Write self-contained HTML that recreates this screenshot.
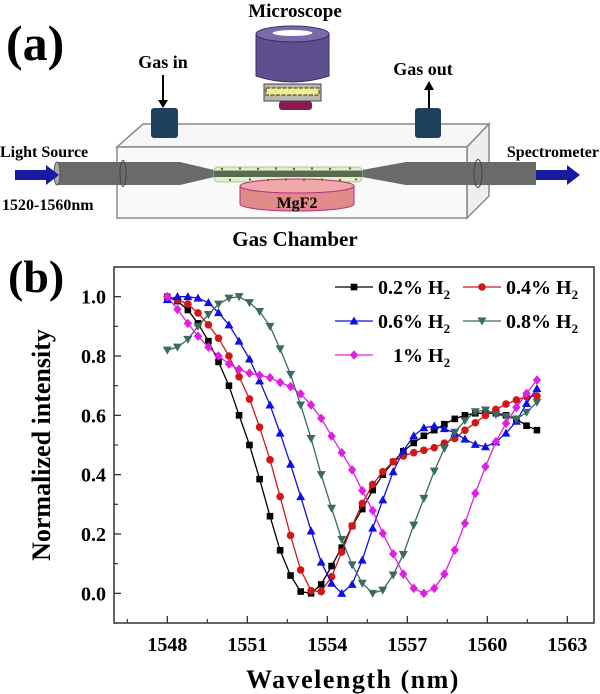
<!DOCTYPE html>
<html><head><meta charset="utf-8"><style>
html,body{margin:0;padding:0;background:#fff;}
svg{display:block;font-family:"Liberation Serif",serif;font-weight:bold;}
</style></head><body>
<svg width="600" height="694" viewBox="0 0 600 694">
<g>
  <text x="6" y="60" font-size="50">(a)</text>
  <text x="295" y="17" font-size="19" text-anchor="middle">Microscope</text>
  <g>
    <path d="M256,34 L256,76 Q292,88 329,76 L329,34 Z" fill="#5e4f8f" stroke="#3a3060"/>
    <ellipse cx="292.5" cy="34" rx="36.5" ry="8" fill="#7a6aaa" stroke="#3a3060"/>
    <ellipse cx="292.5" cy="33" rx="20" ry="3" fill="#fff"/>
    <rect x="264" y="84" width="57" height="17" fill="#b8b8b0" stroke="#444"/>
    <rect x="266" y="88" width="53" height="7" fill="#f0ee90" stroke="#333" stroke-dasharray="4 1.5"/>
    <rect x="279" y="101" width="33" height="9" rx="3" fill="#8a1a50"/>
  </g>
  <g>
    <polygon points="117,147 143,124 489,124 467,147" fill="#f6f6f6" stroke="#888" stroke-width="1.5"/>
    <polygon points="467,147 489,124 489,196 467,218" fill="#eeeeee" stroke="#888" stroke-width="1.5"/>
    <rect x="117" y="147" width="350" height="71" fill="#fafafa" stroke="#888" stroke-width="1.5"/>
  </g>
  <text x="163" y="68" font-size="18" text-anchor="middle">Gas in</text>
  <line x1="163" y1="75" x2="163" y2="104" stroke="#000" stroke-width="2"/>
  <polygon points="158,100 168,100 163,108" fill="#000"/>
  <rect x="151" y="108" width="27" height="30" rx="3" fill="#1f3f5f"/>
  <text x="423" y="75" font-size="18" text-anchor="middle">Gas out</text>
  <line x1="429" y1="88" x2="429" y2="108" stroke="#000" stroke-width="2"/>
  <polygon points="424,90 434,90 429,81" fill="#000"/>
  <rect x="415" y="108" width="26" height="30" rx="3" fill="#1f3f5f"/>
  <g>
    <polygon points="57,162 180,162 214,170 362,170 406,162 536,162 536,185 406,185 362,177 214,177 180,185 57,185" fill="#6a6a6a"/>
    <ellipse cx="57" cy="173.5" rx="3" ry="11.5" fill="#aaa" stroke="#555"/>
    <ellipse cx="123" cy="173.5" rx="3" ry="13" fill="none" stroke="#444"/>
    <ellipse cx="478" cy="173.5" rx="4" ry="14" fill="none" stroke="#444"/>
    <rect x="214" y="167" width="148" height="15" rx="4" fill="#cfe8b0" fill-opacity="0.6" stroke="#a8c890"/>
    <rect x="214" y="171" width="148" height="6" fill="#5a6a50"/>
  </g>
  <g>
    <path d="M240,186 L240,204 A57,7 0 0 0 354,204 L354,186 Z" fill="#e08a8a" stroke="#b03080"/>
    <ellipse cx="297" cy="186" rx="57" ry="7" fill="#f0a8a8" stroke="#b03080"/>
    <text x="297" y="208" font-size="16" text-anchor="middle">MgF2</text>
  </g>
  <g fill="#9a5a20">
    <circle cx="222" cy="169" r="1.2"/><circle cx="240" cy="168.5" r="1.2"/><circle cx="258" cy="169" r="1.2"/><circle cx="276" cy="168.5" r="1.2"/><circle cx="294" cy="169" r="1.2"/><circle cx="312" cy="168.5" r="1.2"/><circle cx="330" cy="169" r="1.2"/><circle cx="350" cy="168.5" r="1.2"/>
    <circle cx="230" cy="180" r="1.2"/><circle cx="250" cy="179.5" r="1.2"/><circle cx="268" cy="180" r="1.2"/><circle cx="286" cy="179.5" r="1.2"/><circle cx="304" cy="180" r="1.2"/><circle cx="322" cy="179.5" r="1.2"/><circle cx="340" cy="180" r="1.2"/><circle cx="356" cy="179.5" r="1.2"/>
  </g>
  <polygon points="15,170 46,170 46,165 59,175 46,185 46,180 15,180" fill="#1a1aa0"/>
  <polygon points="536,170 567,170 567,165 580,175 567,185 567,180 536,180" fill="#1a1aa0"/>
  <text x="0" y="157" font-size="16">Light Source</text>
  <text x="2" y="210" font-size="16">1520-1560nm</text>
  <text x="599" y="157" font-size="16" text-anchor="end">Spectrometer</text>
  <text x="295" y="246" font-size="21" text-anchor="middle">Gas Chamber</text>
</g>
<text x="8" y="292" font-size="46">(b)</text>
<g id="chart"></g>
</svg>
<script>
const wavelengths=[1548.00,1548.38,1548.77,1549.15,1549.54,1549.92,1550.31,1550.69,1551.08,1551.46,1551.85,1552.23,1552.62,1553.00,1553.39,1553.77,1554.16,1554.54,1554.93,1555.31,1555.70,1556.08,1556.47,1556.85,1557.24,1557.62,1558.01,1558.39,1558.78,1559.16,1559.55,1559.93,1560.32,1560.70,1561.09,1561.47,1561.86];
const h2_02=[1.0,.985,.955,.91,.85,.78,.70,.60,.50,.385,.26,.145,.06,.006,0,.03,.092,.154,.227,.284,.348,.40,.443,.479,.507,.531,.55,.57,.588,.60,.607,.607,.607,.60,.588,.565,.55];
const h2_04=[1.0,.99,.975,.945,.905,.86,.80,.73,.655,.56,.45,.326,.195,.079,.009,.006,.056,.139,.227,.303,.367,.41,.444,.463,.474,.482,.491,.506,.522,.55,.575,.60,.62,.638,.652,.663,.665];
const h2_06=[.99,1.0,1.0,.995,.98,.946,.905,.85,.79,.716,.635,.54,.435,.326,.21,.105,.034,0,.03,.112,.22,.315,.41,.48,.531,.558,.564,.555,.54,.52,.502,.494,.51,.54,.58,.64,.69];
const h2_08=[.82,.83,.856,.9,.94,.975,.995,1.0,.98,.95,.9,.824,.738,.635,.522,.40,.287,.182,.096,.034,0,.011,.062,.131,.23,.32,.412,.489,.543,.582,.612,.618,.603,.596,.587,.61,.644];
const h2_10=[1.0,.957,.91,.867,.83,.80,.773,.755,.742,.735,.727,.711,.697,.672,.635,.59,.53,.474,.416,.346,.279,.202,.133,.065,.017,0,.017,.065,.146,.236,.337,.427,.511,.573,.627,.674,.719];
const xTicks=[1548,1551,1554,1557,1560,1563];
const yTicks=[0.0,0.2,0.4,0.6,0.8,1.0];
const seriesNames=["0.2% H","0.4% H","0.6% H","0.8% H","1% H"];

const NS="http://www.w3.org/2000/svg";
const L=114,R=594,T=267,B=623,X0=1546,X1=1564,Y0=-0.1,Y1=1.1;
function sx(v){return L+(v-X0)/(X1-X0)*(R-L);}
function sy(v){return B-(v-Y0)/(Y1-Y0)*(B-T);}
const g=document.getElementById('chart');
function mk(tag,attrs,parent){const e=document.createElementNS(NS,tag);for(const k in attrs)e.setAttribute(k,attrs[k]);(parent||g).appendChild(e);return e;}

const frame=mk('rect',{x:L,y:T,width:R-L,height:B-T,fill:'none',stroke:'#333','stroke-width':1.5});


xTicks.forEach(t=>{
  const tk=mk('line',{x1:sx(t),x2:sx(t),y1:B,y2:B-7,stroke:'#333','stroke-width':1.3});
  
  
  const mn=mk('line',{x1:sx(t-1.5),x2:sx(t-1.5),y1:B,y2:B-4,stroke:'#333','stroke-width':1.2});
  
  
  const lb=mk('text',{x:sx(t),y:B+28,'font-size':20,'text-anchor':'middle'});
  lb.textContent=t;
  
  
});
yTicks.forEach(t=>{
  const tk=mk('line',{x1:L,x2:L+7,y1:sy(t),y2:sy(t),stroke:'#333','stroke-width':1.3});
  
  
  const mn=mk('line',{x1:L,x2:L+4,y1:sy(t-0.1),y2:sy(t-0.1),stroke:'#333','stroke-width':1.2});
  
  
  const lb=mk('text',{x:L-8,y:sy(t)+7,'font-size':20,'text-anchor':'end'});
  lb.textContent=t.toFixed(1);
  
  
});
const yt=mk('text',{x:0,y:0,'font-size':26,'text-anchor':'middle',transform:'translate(50,445) rotate(-90)'});
yt.textContent='Normalized intensity';


const xt=mk('text',{x:353,y:688,'font-size':26,'text-anchor':'middle','letter-spacing':'1.5'});
xt.textContent='Wavelength (nm)';



function marker(type,x,y,color,parent){
  let e;
  if(type==='sq')e=mk('rect',{x:x-3.3,y:y-3.3,width:6.6,height:6.6,fill:color},parent);
  else if(type==='ci')e=mk('circle',{cx:x,cy:y,r:3.8,fill:color},parent);
  else if(type==='tu')e=mk('polygon',{points:`${x},${y-4.5} ${x-4.5},${y+3.5} ${x+4.5},${y+3.5}`,fill:color},parent);
  else if(type==='td')e=mk('polygon',{points:`${x},${y+4.5} ${x-4.5},${y-3.5} ${x+4.5},${y-3.5}`,fill:color},parent);
  else e=mk('polygon',{points:`${x},${y-4.8} ${x-4.2},${y} ${x},${y+4.8} ${x+4.2},${y}`,fill:color},parent);
  return e;
}
const series=[[h2_02,'#000','sq'],[h2_04,'#d01818','ci'],[h2_06,'#1010e0','tu'],[h2_08,'#3a6a60','td'],[h2_10,'#e020e0','di']];
series.forEach((s,i)=>{
  const sg=mk('g',{});
  
  
  const d=s[0].map((v,j)=>(j?'L':'M')+sx(wavelengths[j]).toFixed(1)+','+sy(v).toFixed(1)).join(' ');
  const p=mk('path',{d:d,fill:'none',stroke:s[1],'stroke-width':1.3},sg);
  
  
  s[0].forEach((v,j)=>{
    const m=marker(s[2],sx(wavelengths[j]),sy(v),s[1],sg);
    
    
  });
});
const legPos=[[335,287],[463,287],[335,321],[463,321],[335,355]];
series.forEach((s,i)=>{
  const lg=mk('g',{});
  
  
  const [lx,ly]=legPos[i];
  mk('line',{x1:lx,x2:lx+38,y1:ly,y2:ly,stroke:s[1],'stroke-width':1.3},lg);
  marker(s[2],lx+19,ly,s[1],lg);
  const tx=mk('text',{x:(i===4?lx+58:lx+43),y:ly+7,'font-size':20},lg);
  tx.textContent=seriesNames[i];
  const sub=mk('tspan',{'font-size':13,dy:5},tx);
  sub.textContent='2';
});
</script>
</body></html>
